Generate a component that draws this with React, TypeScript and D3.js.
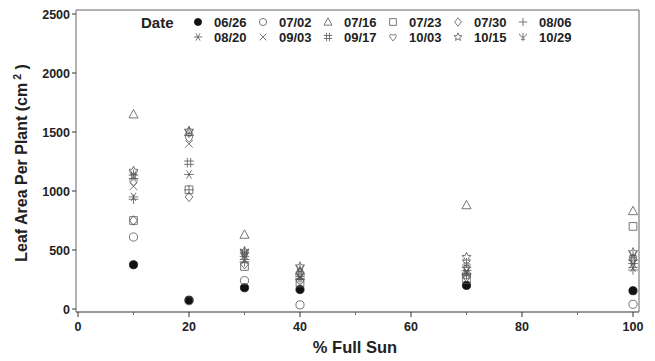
import React from 'react'
import * as d3 from 'd3'

// % full sun levels
const sunLevels = [10, 20, 30, 40, 70, 100]
const dates = ['06/26', '07/02', '07/16', '07/23', '07/30', '08/06', '08/20', '09/03', '09/17', '10/03', '10/15', '10/29']
const symbolKinds = ['dot', 'circle', 'triangle', 'square', 'diamond', 'plus', 'asterisk', 'cross', 'hash', 'heart', 'star', 'psi']

// leaf area per plant (cm2), one row per date, columns follow sunLevels
const leafArea = [
  [375, 75, 180, 165, 200, 155],
  [610, 70, 240, 35, 290, 40],
  [1650, 1500, 630, 320, 880, 830],
  [750, 1010, 360, 220, 250, 700],
  [750, 950, 380, 240, 270, 420],
  [930, 1010, 400, 250, 290, 330],
  [950, 1140, 420, 260, 300, 350],
  [1040, 1400, 450, 270, 320, 380],
  [1120, 1240, 460, 290, 340, 400],
  [1080, 1450, 470, 300, 360, 430],
  [1170, 1510, 490, 360, 440, 480],
  [1140, 1490, 480, 340, 390, 460],
]
const yTicks = [0, 500, 1000, 1500, 2000, 2500]
const xTicks = [0, 20, 40, 60, 80, 100]
const xMinor = [10, 30, 50, 70, 90]

const FONT = '"Liberation Sans", Arial, sans-serif'
const INK = '#222'
const SYM = '#555'

function symbolPath(kind: string, r: number): string {
  const p = d3.path()
  switch (kind) {
    case 'circle':
    case 'dot':
      p.arc(0, 0, r * 0.85, 0, Math.PI * 2)
      break
    case 'triangle':
      p.moveTo(0, -r); p.lineTo(r * 0.95, r * 0.75); p.lineTo(-r * 0.95, r * 0.75); p.closePath()
      break
    case 'square':
      p.rect(-r * 0.8, -r * 0.8, r * 1.6, r * 1.6)
      break
    case 'diamond':
      p.moveTo(0, -r); p.lineTo(r * 0.8, 0); p.lineTo(0, r); p.lineTo(-r * 0.8, 0); p.closePath()
      break
    case 'plus':
      p.moveTo(-r, 0); p.lineTo(r, 0); p.moveTo(0, -r); p.lineTo(0, r)
      break
    case 'asterisk':
      p.moveTo(-r, 0); p.lineTo(r, 0)
      for (const a of [60, 120]) {
        const t = (a * Math.PI) / 180
        p.moveTo(-r * Math.cos(t), -r * Math.sin(t)); p.lineTo(r * Math.cos(t), r * Math.sin(t))
      }
      break
    case 'cross':
      p.moveTo(-r * 0.8, -r * 0.8); p.lineTo(r * 0.8, r * 0.8); p.moveTo(r * 0.8, -r * 0.8); p.lineTo(-r * 0.8, r * 0.8)
      break
    case 'hash':
      p.moveTo(-r * 0.35, -r); p.lineTo(-r * 0.35, r); p.moveTo(r * 0.35, -r); p.lineTo(r * 0.35, r)
      p.moveTo(-r, -r * 0.35); p.lineTo(r, -r * 0.35); p.moveTo(-r, r * 0.35); p.lineTo(r, r * 0.35)
      break
    case 'heart':
      p.moveTo(0, r * 0.9)
      p.bezierCurveTo(-r * 1.1, 0, -r * 0.9, -r * 1.1, 0, -r * 0.4)
      p.bezierCurveTo(r * 0.9, -r * 1.1, r * 1.1, 0, 0, r * 0.9)
      break
    case 'star': {
      for (let i = 0; i < 10; i++) {
        const rr = i % 2 === 0 ? r : r * 0.45
        const t = -Math.PI / 2 + (i * Math.PI) / 5
        if (i === 0) p.moveTo(rr * Math.cos(t), rr * Math.sin(t))
        else p.lineTo(rr * Math.cos(t), rr * Math.sin(t))
      }
      p.closePath()
      break
    }
    case 'psi':
      p.moveTo(0, -r); p.lineTo(0, r)
      p.moveTo(-r * 0.8, -r * 0.8)
      p.bezierCurveTo(-r * 0.8, r * 0.3, r * 0.8, r * 0.3, r * 0.8, -r * 0.8)
      p.moveTo(-r * 0.5, r * 0.55); p.lineTo(r * 0.5, r * 0.55)
      break
  }
  return p.toString()
}

function Marker({ kind, x, y, r = 4.8 }: { kind: string; x: number; y: number; r?: number }) {
  const filled = kind === 'dot'
  return (
    <path
      d={symbolPath(kind, r)}
      transform={`translate(${x},${y})`}
      fill={filled ? '#111' : 'none'}
      stroke={filled ? '#111' : SYM}
      strokeWidth={0.8}
    />
  )
}

export default function App() {
  const W = 655
  const H = 361
  const frame = { l: 76, t: 10, r: 639, b: 312 }
  const x = d3.scaleLinear().domain([0, 100]).range([78, 633])
  const y = d3.scaleLinear().domain([0, 2500]).range([309, 14])

  const legendX = (i: number) => 198 + (i % 6) * 65
  const legendY = (i: number) => (i < 6 ? 23 : 38)

  return (
    <svg width={W} height={H} style={{ position: 'absolute', left: 0, top: 0, background: '#fff' }} fontFamily={FONT}>
      <rect x={0} y={0} width={W} height={H} fill="#fff" />
      {/* frame */}
      <path
        d={`M${frame.l},${frame.b}V${frame.t}H${frame.r}V${frame.b}`}
        fill="none"
        stroke="#666"
        strokeWidth={1}
      />
      <line x1={frame.l} x2={frame.r} y1={frame.b} y2={frame.b} stroke="#333" strokeWidth={1.2} />

      {/* y axis ticks */}
      {yTicks.map(t => (
        <g key={t}>
          <line x1={frame.l - 4} x2={frame.l} y1={y(t)} y2={y(t)} stroke="#333" />
          <text x={frame.l - 6} y={y(t) + 4.5} textAnchor="end" fontSize={12.5} fontWeight="bold" fill={INK}>
            {t}
          </text>
        </g>
      ))}
      {/* x axis ticks */}
      {xTicks.map(t => (
        <g key={t}>
          <line x1={x(t)} x2={x(t)} y1={frame.b} y2={frame.b + 5} stroke="#333" />
          <text x={x(t)} y={frame.b + 19} textAnchor="middle" fontSize={12.5} fontWeight="bold" fill={INK}>
            {t}
          </text>
        </g>
      ))}
      {xMinor.map(t => (
        <line key={t} x1={x(t)} x2={x(t)} y1={frame.b} y2={frame.b + 3} stroke="#666" />
      ))}

      {/* axis titles */}
      <text x={355} y={353} textAnchor="middle" fontSize={16.5} fontWeight="bold" fill={INK}>
        % Full Sun
      </text>
      <text
        transform={`translate(27,${(frame.t + frame.b) / 2 + 2}) rotate(-90)`}
        textAnchor="middle"
        fontSize={16}
        fontWeight="bold"
        fill={INK}
      >
        Leaf Area Per Plant (cm
        <tspan dy={-6} fontSize={10.5}> 2</tspan>
        <tspan dy={6}> )</tspan>
      </text>

      {/* points, later dates drawn over earlier ones */}
      {leafArea.map((row, si) =>
        row.map((v, i) => <Marker key={`${si}-${i}`} kind={symbolKinds[si]} x={x(sunLevels[i])} y={y(v)} />)
      )}

      {/* legend */}
      <text x={141} y={28} fontSize={15} fontWeight="bold" fill={INK}>
        Date
      </text>
      {dates.map((d, i) => (
        <g key={d}>
          <Marker kind={symbolKinds[i]} x={legendX(i)} y={legendY(i) - 1} r={4.2} />
          <text x={legendX(i) + 16} y={legendY(i) + 4} fontSize={13} fontWeight="bold" fill={INK}>
            {d}
          </text>
        </g>
      ))}
    </svg>
  )
}
